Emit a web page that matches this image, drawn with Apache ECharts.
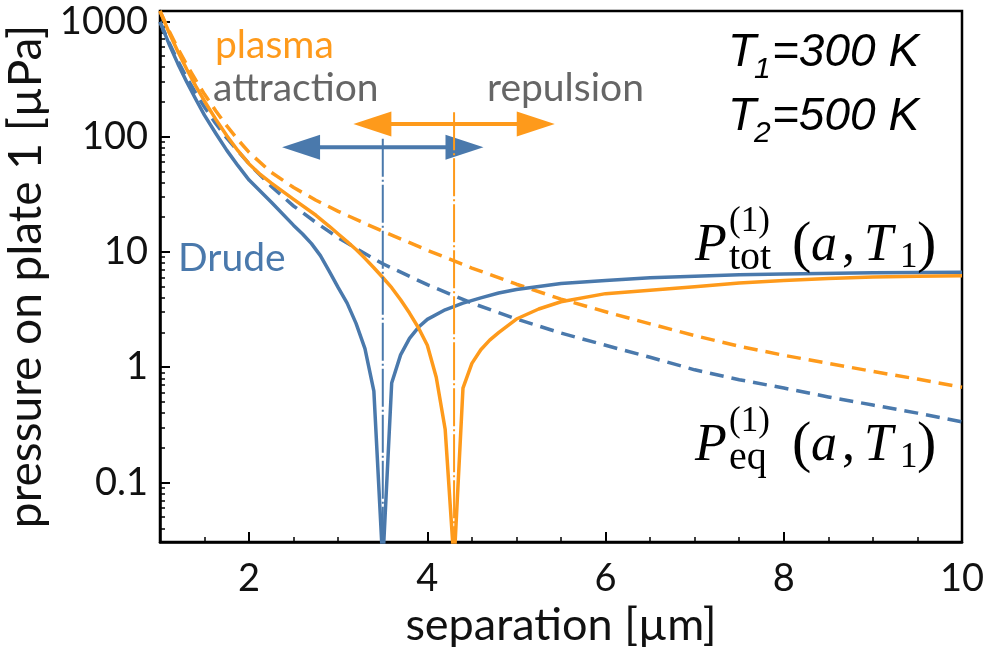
<!DOCTYPE html>
<html>
<head>
<meta charset="utf-8">
<script src="https://cdn.jsdelivr.net/npm/echarts@6/dist/echarts.min.js"></script>
<style>
  html, body { margin: 0; padding: 0; background: #ffffff; }
  #chart { width: 994px; height: 647px; }
</style>
</head>
<body>
<div id="chart"></div>
<script>
// Pressure on plate 1 versus separation, Drude and plasma models (µPa, µm)

// Drude model: total (equilibrium + non-equilibrium) pressure, absolute value
const drudeTotX = [1.0, 1.1, 1.2, 1.3, 1.4, 1.5, 1.625, 1.75, 1.875, 2.0, 2.25, 2.5, 2.6, 2.7, 2.8, 2.9, 3.0, 3.1, 3.2, 3.3, 3.4, 3.5, 3.6, 3.7, 3.8, 3.9, 4.0, 4.2, 4.4, 4.6, 4.8, 5.0, 5.5, 6.0, 6.5, 7.0, 7.5, 8.0, 9.0, 10.0];
const drudeTotY = [990, 640, 430, 298, 212, 153, 107, 76, 56, 42, 27, 17, 14.3, 11.8, 9.3, 6.8, 4.9, 3.6, 2.4, 1.45, 0.62, 0.02, 0.73, 1.28, 1.78, 2.22, 2.6, 3.15, 3.6, 4.0, 4.4, 4.72, 5.32, 5.65, 5.97, 6.15, 6.33, 6.45, 6.6, 6.66];

// Drude model: equilibrium pressure
const drudeEqX = [1.0, 1.1, 1.2, 1.3, 1.4, 1.5, 1.625, 1.75, 1.875, 2.0, 2.25, 2.5, 2.75, 3.0, 3.25, 3.5, 4.0, 4.5, 5.0, 5.5, 6.0, 6.5, 7.0, 7.5, 8.0, 8.5, 9.0, 9.5, 10.0];
const drudeEqY = [990, 660, 455, 325, 240, 180, 130, 97, 75, 58, 37, 25, 18, 13.3, 10.2, 7.9, 5.2, 3.6, 2.62, 1.98, 1.55, 1.22, 0.95, 0.78, 0.66, 0.553, 0.47, 0.4, 0.336];

// Plasma model: total pressure, absolute value
const plasmaTotX = [1.0, 1.1, 1.2, 1.3, 1.4, 1.5, 1.625, 1.75, 1.875, 2.0, 2.125, 2.25, 2.5, 2.75, 2.9, 3.0, 3.1, 3.2, 3.3, 3.4, 3.5, 3.6, 3.7, 3.8, 3.9, 4.0, 4.1, 4.2, 4.3, 4.4, 4.5, 4.6, 4.7, 4.8, 5.0, 5.25, 5.5, 6.0, 6.5, 7.0, 7.5, 8.0, 8.5, 9.0, 9.5, 10.0];
const plasmaTotY = [1230, 805, 547, 384, 276, 203, 142, 102, 75.5, 58, 47, 39.5, 28.6, 20.8, 16.7, 14.3, 12.3, 10.5, 8.8, 7.3, 6.0, 4.9, 3.85, 2.95, 2.2, 1.55, 0.82, 0.29, 0.02, 0.66, 1.08, 1.42, 1.72, 2.0, 2.62, 3.2, 3.7, 4.35, 4.65, 5.0, 5.38, 5.65, 5.88, 6.05, 6.15, 6.22];

// Plasma model: equilibrium pressure
const plasmaEqX = [1.0, 1.1, 1.2, 1.3, 1.4, 1.5, 1.625, 1.75, 1.875, 2.0, 2.25, 2.5, 2.75, 3.0, 3.25, 3.5, 4.0, 4.5, 5.0, 5.5, 6.0, 6.5, 7.0, 7.5, 8.0, 8.5, 9.0, 9.5, 10.0];
const plasmaEqY = [1230, 832, 582, 420, 310, 233, 168, 124, 94, 73, 48.9, 36.2, 28.1, 22.5, 18.4, 15.1, 10.35, 7.25, 5.25, 3.9, 3.03, 2.38, 1.88, 1.52, 1.27, 1.08, 0.92, 0.79, 0.67];

// Separations where the total pressure changes sign (Drude, plasma),
// with the extent of the guide lines and the attraction/repulsion arrows
const signChangeX = [3.5, 4.3];
const guideTop = [96, 163];
const arrowLevel = [81, 129];
const arrowHalfSpan = [1.13, 1.13];

// Axis ticks
const xMajorTicks = [2, 4, 6, 8, 10];
const xMinorTicks = [1.5, 2.5, 3, 3.5, 4.5, 5, 5.5, 6.5, 7, 7.5, 8.5, 9, 9.5];
const yMajorTicks = [0.1, 1, 10, 100, 1000];
const yTickLabels = ['0.1', '1', '10', '100', '1000'];

const X_MIN = 1, X_MAX = 10, Y_MIN = 0.0305, Y_MAX = 1230;

const yMinorTicks = [];
for (let e = -2; e <= 2; e++) {
  for (let m = 2; m <= 9; m++) {
    const v = m * Math.pow(10, e);
    if (v > Y_MIN && v < Y_MAX) yMinorTicks.push(+v.toPrecision(3));
  }
}

const BLUE = '#4a79ac';
const ORANGE = '#fe9a1b';
const GREY = '#666666';
const markerColors = [BLUE, ORANGE];
const SANS = 'Lato, "Open Sans", sans-serif';
const SERIF = '"Liberation Serif", "DejaVu Serif", serif';
const ITSANS = '"Liberation Sans", Arial, sans-serif';

const zip = (xs, ys) => xs.map((x, i) => [x, ys[i]]);

const chart = echarts.init(document.getElementById('chart'), null, { renderer: 'canvas' });

const lineSeries = (name, xs, ys, color, dashed, z) => ({
  name, type: 'line', data: zip(xs, ys), showSymbol: false, symbol: 'none',
  clip: true, z,
  lineStyle: { color, width: 3.5, type: dashed ? [14, 8] : 'solid', cap: 'butt', join: 'round' }
});

const markerData = signChangeX.map((x, i) => [x, guideTop[i], arrowLevel[i], arrowHalfSpan[i]]);

function renderMarker(params, api) {
  const color = markerColors[params.dataIndex];
  const x = api.value(0), top = api.value(1), ay = api.value(2), half = api.value(3);
  const pTop = api.coord([x, top]);
  const pBot = api.coord([x, Y_MIN]);
  const pL = api.coord([x - half, ay]);
  const pR = api.coord([x + half, ay]);
  const headLen = 38, headHalf = 12.5;
  return {
    type: 'group',
    children: [
      { type: 'line', shape: { x1: pTop[0], y1: pTop[1], x2: pBot[0], y2: pBot[1] },
        style: { stroke: color, lineWidth: 2, lineDash: [38, 3, 2, 3] } },
      { type: 'line', shape: { x1: pL[0] + headLen - 2, y1: pL[1], x2: pR[0] - headLen + 2, y2: pR[1] },
        style: { stroke: color, lineWidth: 4 } },
      { type: 'polygon', shape: { points: [[pL[0], pL[1]], [pL[0] + headLen, pL[1] - headHalf], [pL[0] + headLen, pL[1] + headHalf]] },
        style: { fill: color } },
      { type: 'polygon', shape: { points: [[pR[0], pR[1]], [pR[0] - headLen, pR[1] - headHalf], [pR[0] - headLen, pR[1] + headHalf]] },
        style: { fill: color } }
    ]
  };
}

// Text placed by its baseline; k is the baseline offset (in em) of a top-aligned line box
function textAt(x, baseline, text, family, size, fill, opts) {
  const o = opts || {};
  const k = o.k || 0.8;
  return {
    type: 'text', x, y: baseline - k * size, silent: true, z: 100,
    style: { text, font: (o.italic ? 'italic ' : '') + size + 'px ' + family, fill, align: 'left', verticalAlign: 'top' }
  };
}

const KSERIF = 0.83, KSANS = 0.79, KIT = 0.92;

function pressureLabel(base, subText) {
  const it = { italic: true, k: KSERIF }, up = { k: KSERIF };
  return [
    textAt(695, base, 'P', SERIF, 52, '#000', it),
    textAt(729, base - 30, '(1)', SERIF, 35, '#000', up),
    textAt(729, base + 9, subText, SERIF, 40, '#000', up),
    textAt(792, base + 2, '(', SERIF, 58, '#000', up),
    textAt(811, base, 'a', SERIF, 52, '#000', it),
    textAt(842, base, ',', SERIF, 52, '#000', up),
    textAt(864, base, 'T', SERIF, 52, '#000', it),
    textAt(900, base + 6, '1', SERIF, 35, '#000', up),
    textAt(917, base + 2, ')', SERIF, 58, '#000', up)
  ];
}

const option = {
  animation: false,
  backgroundColor: '#ffffff',
  grid: {
    left: 160, right: 32, top: 11, bottom: 105,
    outerBoundsMode: 'none', containLabel: false,
    show: true, borderColor: '#000', borderWidth: 2.5, backgroundColor: 'transparent'
  },
  xAxis: [
    {
      type: 'value', min: X_MIN, max: X_MAX, position: 'bottom',
      name: 'separation [µm]', nameLocation: 'middle', nameGap: 55,
      nameTextStyle: { fontFamily: SANS, fontSize: 45, color: '#111' },
      axisLine: { show: true, onZero: false, lineStyle: { color: '#000', width: 2.5 } },
      axisTick: { show: true, inside: true, length: 10, lineStyle: { color: '#000', width: 2 }, customValues: xMajorTicks },
      axisLabel: { show: true, customValues: xMajorTicks, margin: 18, fontFamily: SANS, fontSize: 38, color: '#111' },
      splitLine: { show: false }
    },
    {
      type: 'value', min: X_MIN, max: X_MAX, position: 'bottom', gridIndex: 0,
      axisLine: { show: false, onZero: false },
      axisTick: { show: true, inside: true, length: 5, lineStyle: { color: '#000', width: 1.5 }, customValues: xMinorTicks },
      axisLabel: { show: false },
      splitLine: { show: false }
    }
  ],
  yAxis: [
    {
      type: 'log', logBase: 10, min: Y_MIN, max: Y_MAX, position: 'left',
      name: 'pressure on plate 1 [µPa]', nameLocation: 'middle', nameGap: 104, nameRotate: 90,
      nameTextStyle: { fontFamily: SANS, fontSize: 46, color: '#111' },
      axisLine: { show: true, onZero: false, lineStyle: { color: '#000', width: 2.5 } },
      axisTick: { show: true, inside: true, length: 10, lineStyle: { color: '#000', width: 2 }, customValues: yMajorTicks },
      axisLabel: {
        show: true, customValues: yMajorTicks, margin: 12, fontFamily: SANS, fontSize: 38, color: '#111',
        formatter: (v) => yTickLabels[yMajorTicks.findIndex(t => Math.abs(Math.log10(t) - Math.log10(v)) < 1e-6)] || ''
      },
      splitLine: { show: false }
    },
    {
      type: 'log', logBase: 10, min: Y_MIN, max: Y_MAX, position: 'left', gridIndex: 0,
      axisLine: { show: false, onZero: false },
      axisTick: { show: true, inside: true, length: 5, lineStyle: { color: '#000', width: 1.5 }, customValues: yMinorTicks },
      axisLabel: { show: false },
      splitLine: { show: false }
    }
  ],
  series: [
    lineSeries('Drude eq', drudeEqX, drudeEqY, BLUE, true, 2),
    lineSeries('plasma eq', plasmaEqX, plasmaEqY, ORANGE, true, 2),
    lineSeries('Drude tot', drudeTotX, drudeTotY, BLUE, false, 3),
    lineSeries('plasma tot', plasmaTotX, plasmaTotY, ORANGE, false, 3),
    {
      type: 'custom', name: 'sign change', data: markerData, renderItem: renderMarker,
      clip: true, z: 4, silent: true,
      encode: { x: 0, y: 1 }
    }
  ],
  graphic: [
    textAt(215, 57, 'plasma', SANS, 39, ORANGE, { k: KSANS }),
    textAt(213, 100, 'attraction', SANS, 39, GREY, { k: KSANS }),
    textAt(487, 100, 'repulsion', SANS, 39, GREY, { k: KSANS }),
    textAt(178, 270, 'Drude', SANS, 39, BLUE, { k: KSANS }),
    textAt(728, 73, 'T', ITSANS, 46, '#000', { italic: true, k: KIT }),
    textAt(754, 82, '1', ITSANS, 30, '#000', { italic: true, k: KIT }),
    textAt(772, 73, '=300 K', ITSANS, 46, '#000', { italic: true, k: KIT }),
    textAt(728, 137, 'T', ITSANS, 46, '#000', { italic: true, k: KIT }),
    textAt(754, 146, '2', ITSANS, 30, '#000', { italic: true, k: KIT }),
    textAt(772, 137, '=500 K', ITSANS, 46, '#000', { italic: true, k: KIT })
  ].concat(pressureLabel(263, 'tot'), pressureLabel(463, 'eq'))
};

chart.setOption(option);
</script>
</body>
</html>
